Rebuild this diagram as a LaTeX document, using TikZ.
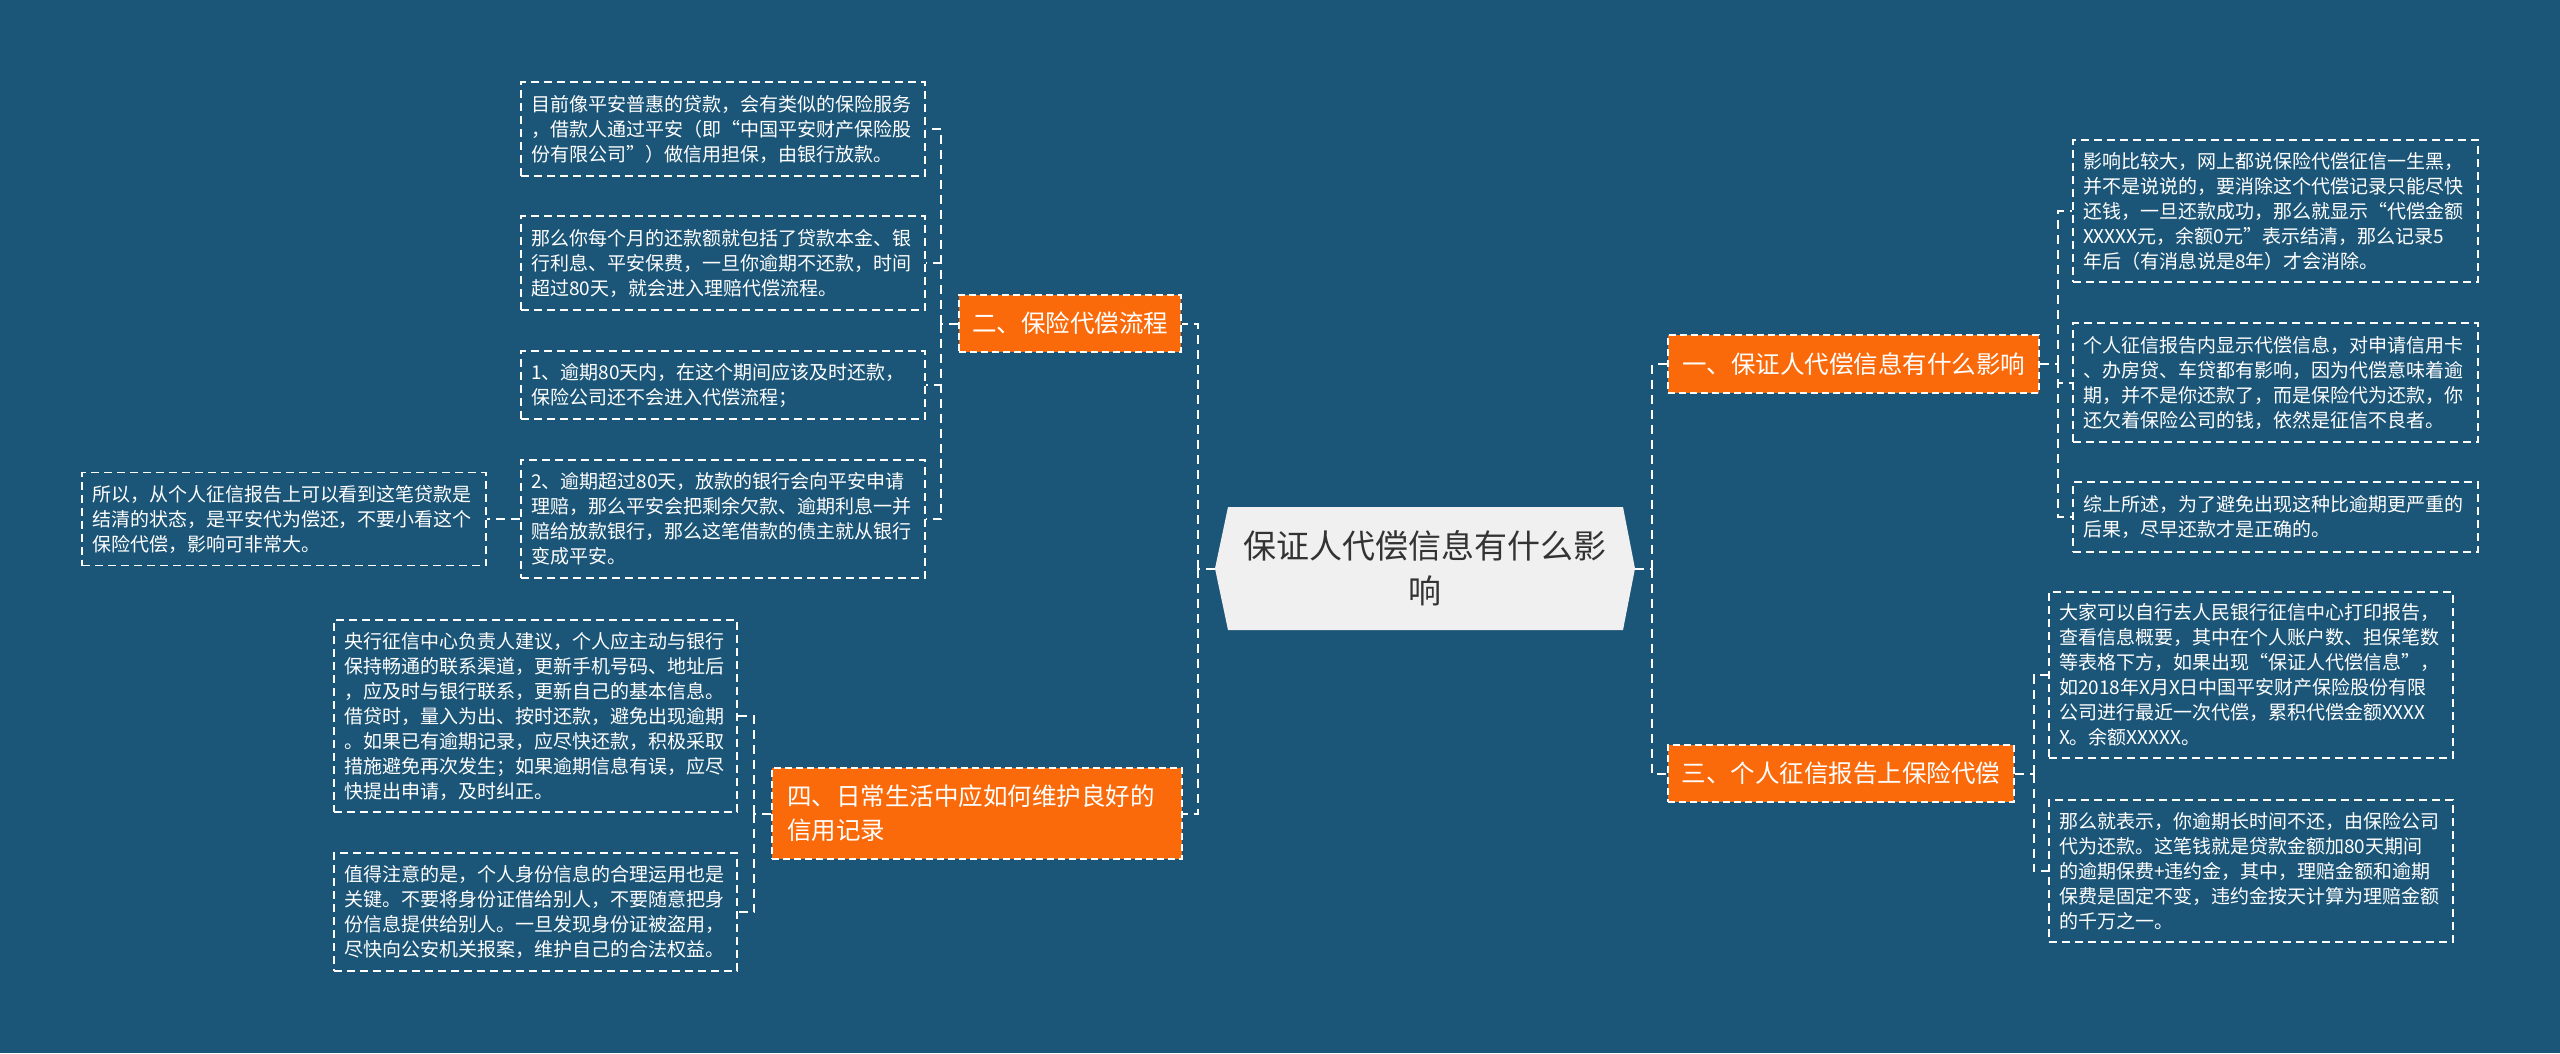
\documentclass[tikz,border=0pt]{standalone}
\usepackage{fontspec}
\setmainfont{Noto Sans CJK SC}
\definecolor{bgc}{HTML}{1B5578}
\definecolor{orng}{HTML}{FA6A0A}
\definecolor{cfill}{HTML}{F0F0F0}
\definecolor{ctext}{HTML}{333333}
\tikzset{
  leaf/.style={draw=white, line width=1.5pt, dash pattern=on 8pt off 5pt,
    text=white, inner xsep=10pt, inner ysep=0pt, align=left,
    font=\fontsize{19pt}{25pt}\selectfont},
  mid/.style={fill=orng, draw=white, line width=1.5pt, dash pattern=on 7pt off 4pt,
    text=white, inner sep=0pt, font=\fontsize{24.5pt}{34pt}\selectfont},
  conn/.style={draw=white, line width=2pt, dash pattern=on 9pt off 6pt},
}
\begin{document}
\begin{tikzpicture}[x=1pt,y=-1pt]
\useasboundingbox (0,0) rectangle (2560,1053);
\fill[bgc] (0,0) rectangle (2560,1053);
% central hexagon
\fill[cfill] (1215,568.5) -- (1228,507) -- (1623,507) -- (1635,568.5) -- (1623,630) -- (1228,630) -- cycle;
\node[minimum width=420pt, minimum height=123pt, inner sep=0pt, text width=380pt, align=center,
  text=ctext, font=\fontsize{33pt}{45pt}\selectfont] (c) at (1425,568.5)
  {保证人代偿信息有什么影\\响};

% main branches
\node[mid, minimum width=371pt, minimum height=58pt] (n1) at (1853.5,364) {一、保证人代偿信息有什么影响};
\node[mid, minimum width=346pt, minimum height=57pt] (n3) at (1841,773.5) {三、个人征信报告上保险代偿};
\node[mid, minimum width=222pt, minimum height=57pt] (n2) at (1070,323.5) {二、保险代偿流程};
\node[mid, minimum width=410pt, minimum height=91pt, inner xsep=15pt, text width=380pt, align=left] (n4) at (977,813.5)
  {四、日常生活中应如何维护良好的\\信用记录};

% left leaves
\node[leaf, minimum width=404pt, minimum height=94pt, text width=384pt] (l1) at (723,129)
  {目前像平安普惠的贷款，会有类似的保险服务\\，借款人通过平安（即“中国平安财产保险股\\份有限公司”）做信用担保，由银行放款。};
\node[leaf, minimum width=404pt, minimum height=94pt, text width=384pt] (l2) at (723,263)
  {那么你每个月的还款额就包括了贷款本金、银\\行利息、平安保费，一旦你逾期不还款，时间\\超过80天，就会进入理赔代偿流程。};
\node[leaf, minimum width=404pt, minimum height=68pt, text width=384pt] (l3) at (723,385)
  {1、逾期80天内，在这个期间应该及时还款，\\保险公司还不会进入代偿流程；};
\node[leaf, minimum width=404pt, minimum height=118pt, text width=384pt] (l4) at (723,519)
  {2、逾期超过80天，放款的银行会向平安申请\\理赔，那么平安会把剩余欠款、逾期利息一并\\赔给放款银行，那么这笔借款的债主就从银行\\变成平安。};
\node[leaf, minimum width=404pt, minimum height=93pt, text width=384pt] (l5) at (284,519)
  {所以，从个人征信报告上可以看到这笔贷款是\\结清的状态，是平安代为偿还，不要小看这个\\保险代偿，影响可非常大。};
\node[leaf, minimum width=403pt, minimum height=192pt, text width=383pt] (l6) at (535.5,716)
  {央行征信中心负责人建议，个人应主动与银行\\保持畅通的联系渠道，更新手机号码、地址后\\，应及时与银行联系，更新自己的基本信息。\\借贷时，量入为出、按时还款，避免出现逾期\\。如果已有逾期记录，应尽快还款，积极采取\\措施避免再次发生；如果逾期信息有误，应尽\\快提出申请，及时纠正。};
\node[leaf, minimum width=403pt, minimum height=118pt, text width=383pt] (l7) at (535.5,912)
  {值得注意的是，个人身份信息的合理运用也是\\关键。不要将身份证借给别人，不要随意把身\\份信息提供给别人。一旦发现身份证被盗用，\\尽快向公安机关报案，维护自己的合法权益。};

% right leaves
\node[leaf, minimum width=405pt, minimum height=142pt, text width=385pt] (r1) at (2275.5,211)
  {影响比较大，网上都说保险代偿征信一生黑，\\并不是说说的，要消除这个代偿记录只能尽快\\还钱，一旦还款成功，那么就显示“代偿金额\\XXXXX元，余额0元”表示结清，那么记录5\\年后（有消息说是8年）才会消除。};
\node[leaf, minimum width=405pt, minimum height=119pt, text width=385pt] (r2) at (2275.5,382.5)
  {个人征信报告内显示代偿信息，对申请信用卡\\、办房贷、车贷都有影响，因为代偿意味着逾\\期，并不是你还款了，而是保险代为还款，你\\还欠着保险公司的钱，依然是征信不良者。};
\node[leaf, minimum width=405pt, minimum height=70pt, text width=385pt] (r3) at (2275.5,517)
  {综上所述，为了避免出现这种比逾期更严重的\\后果，尽早还款才是正确的。};
\node[leaf, minimum width=404pt, minimum height=166pt, text width=384pt] (r4) at (2251,675)
  {大家可以自行去人民银行征信中心打印报告，\\查看信息概要，其中在个人账户数、担保笔数\\等表格下方，如果出现“保证人代偿信息”，\\如2018年X月X日中国平安财产保险股份有限\\公司进行最近一次代偿，累积代偿金额XXXX\\X。余额XXXXX。};
\node[leaf, minimum width=404pt, minimum height=142pt, text width=384pt] (r5) at (2251,871)
  {那么就表示，你逾期长时间不还，由保险公司\\代为还款。这笔钱就是贷款金额加80天期间\\的逾期保费+违约金，其中，理赔金额和逾期\\保费是固定不变，违约金按天计算为理赔金额\\的千万之一。};

% connectors: left
\draw[conn] (c.west) -- ++(-17,0) coordinate (jl);
\draw[conn] (jl) |- (n2.east);
\draw[conn] (jl) |- (n4.east);
\draw[conn] (n2.west) -- ++(-17,0) coordinate (j2);
\draw[conn] (j2) |- (l1.east);
\draw[conn] (j2) |- (l2.east);
\draw[conn] (j2) |- (l3.east);
\draw[conn] (j2) |- (l4.east);
\draw[conn] (l4.west) -- (l5.east);
\draw[conn] (n4.west) -- ++(-17,0) coordinate (j4);
\draw[conn] (j4) |- (l6.east);
\draw[conn] (j4) |- (l7.east);
% connectors: right
\draw[conn] (c.east) -- ++(17,0) coordinate (jr);
\draw[conn] (jr) |- (n1.west);
\draw[conn] (jr) |- (n3.west);
\draw[conn] (n1.east) -- ++(18,0) coordinate (j1);
\draw[conn] (j1) |- (r1.west);
\draw[conn] (j1) |- (r2.west);
\draw[conn] (j1) |- (r3.west);
\draw[conn] (n3.east) -- ++(19,0) coordinate (j3);
\draw[conn] (j3) |- (r4.west);
\draw[conn] (j3) |- (r5.west);
\end{tikzpicture}
\end{document}
